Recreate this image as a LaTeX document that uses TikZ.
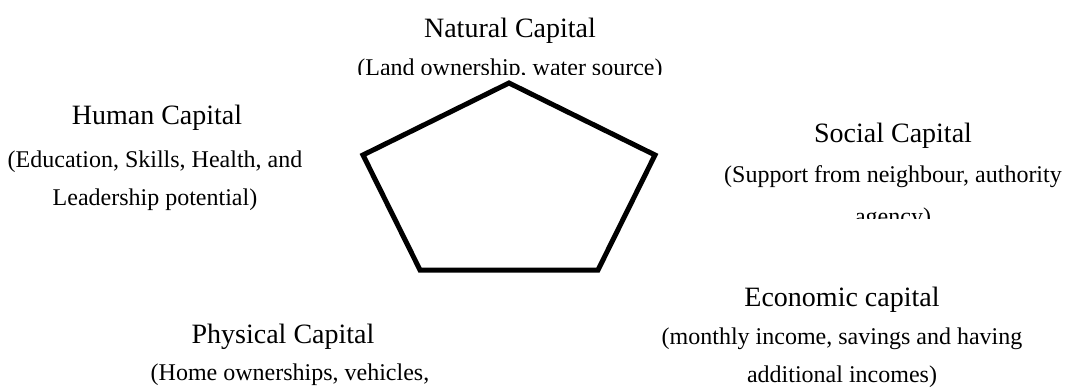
\documentclass[tikz,border=0pt]{standalone}
\usepackage{fontspec}
\setmainfont{Liberation Serif}
\usetikzlibrary{positioning}

\begin{document}
\begin{tikzpicture}[x=1pt,y=-1pt,
  head/.style={font=\fontsize{28}{34}\selectfont,anchor=base,inner sep=0pt},
  detail/.style={font=\fontsize{24}{38}\selectfont,align=center,anchor=base,inner sep=0pt},
  pent/.style={line width=5pt,line join=miter}
]
\useasboundingbox (0,0) rectangle (1065,390);

% pentagon of the five capitals
\coordinate (top) at (509,83);
\coordinate (rt) at (655,155);
\coordinate (br) at (598,270);
\coordinate (bl) at (420,270);
\coordinate (lt) at (363,155);
\draw[pent] (top) -- (rt) -- (br) -- (bl) -- (lt) -- cycle;

% labels (base anchor = baseline of the last line)
\node[head] (natural) at (510,38) {Natural Capital};
\begin{scope}
  \clip (300,45) rectangle (720,75);
  \node[detail] (naturalsub) at (510,75.5) {(Land ownership, water source)};
\end{scope}

\node[head] (human) at (157,125) {Human Capital};
\node[detail] (humansub) at (155,205) {(Education, Skills, Health, and\\Leadership potential)};

\node[head] (social) at (893,143) {Social Capital};
\begin{scope}
  \clip (700,155) rectangle (1065,218);
  \node[detail,font=\fontsize{24}{43}\selectfont] (socialsub) at (893,225) {(Support from neighbour, authority\\agency)};
\end{scope}

\node[head] (economic) at (842,306) {Economic capital};
\node[detail] (economicsub) at (842,382) {(monthly income, savings and having\\additional incomes)};

\node[head] (physical) at (283,343) {Physical Capital};
\begin{scope}
  \clip (0,352) rectangle (600,390);
  \node[detail] (physicalsub) at (290,380) {(Home ownerships, vehicles,};
\end{scope}
\end{tikzpicture}
\end{document}
